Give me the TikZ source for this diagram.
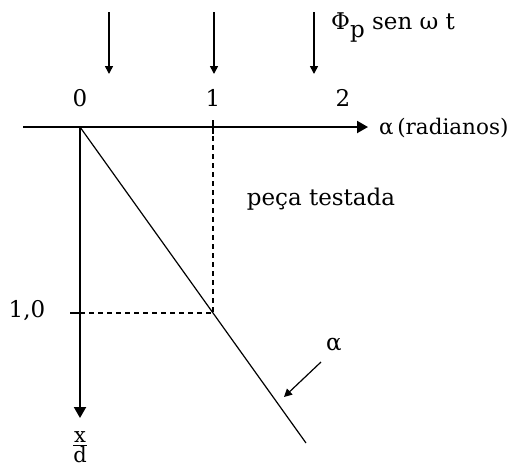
\documentclass[tikz,border=0pt]{standalone}
\usepackage{fontspec}
\setmainfont{DejaVu Serif}
\usetikzlibrary{arrows.meta}
\begin{document}
\begin{tikzpicture}[x=1pt,y=-1pt,
  axis/.style={line width=2pt},
  thin line/.style={line width=1.2pt},
  dashline/.style={line width=1.2pt,dash pattern=on 5pt off 4pt},
  tip/.style={-{Triangle[length=11pt,width=12pt]}},
  smalltip/.style={-{Triangle[length=8pt,width=8pt]}},
  lbl/.style={font=\fontsize{23}{23}\selectfont, inner sep=0pt}]
\useasboundingbox (0,0) rectangle (516,467);
% coordinates
\coordinate (xs) at (23,127);
\coordinate (xe) at (368,127);
\coordinate (O) at (80,127);
\coordinate (ye) at (80,418);
\coordinate (P) at (213,313);
\coordinate (X1) at (213,127);
\coordinate (Y1) at (80,313);
\coordinate (Y1t) at (70,313);
\coordinate (X1a) at (213,120);
\coordinate (X1b) at (213,134);
\coordinate (De) at (306,443);
% axes
\draw[axis,tip] (xs) -- (xe);
\draw[axis,tip] (O) -- (ye);
% ticks
\draw[line width=1.5pt] (X1a) -- (X1b);
\draw[line width=1.5pt] (Y1t) -- (Y1);
% dashed
\draw[dashline] (X1) -- (P);
\draw[dashline] (Y1) -- (P);
% diagonal
\draw[thin line] (O) -- (De);
% load arrows
\coordinate (a1s) at (109,12); \coordinate (a1e) at (109,74);
\coordinate (a2s) at (214,12); \coordinate (a2e) at (214,74);
\coordinate (a3s) at (314,12); \coordinate (a3e) at (314,74);
\draw[line width=1.6pt,smalltip] (a1s) -- (a1e);
\draw[line width=1.6pt,smalltip] (a2s) -- (a2e);
\draw[line width=1.6pt,smalltip] (a3s) -- (a3e);
% labels
\node[lbl] (l0) at (80,98) {0};
\node[lbl] (l1) at (213,98) {1};
\node[lbl] (l2) at (343,98) {2};
\node[lbl,anchor=west,font=\fontsize{21.5}{22}\selectfont] (lalpha) at (379,128) {α\,(radianos)};
\node[lbl] (l10) at (27,311) {1,0};
\node[lbl] (lxd) at (80,447) {\fontsize{21}{21}\selectfont$\frac{\hbox{x}}{\hbox{d}}$};
\node[lbl,anchor=west] (lphi) at (331,28) {Φ\raisebox{-8pt}{p} sen ω t};
\node[lbl] (lpeca) at (321,199) {peça testada};
\node[lbl] (la) at (334,345) {α};
% alpha pointer
\coordinate (ps) at (321,362);
\coordinate (pe) at (284,397);
\draw[line width=1.2pt,smalltip] (ps) -- (pe);
\end{tikzpicture}
\end{document}
